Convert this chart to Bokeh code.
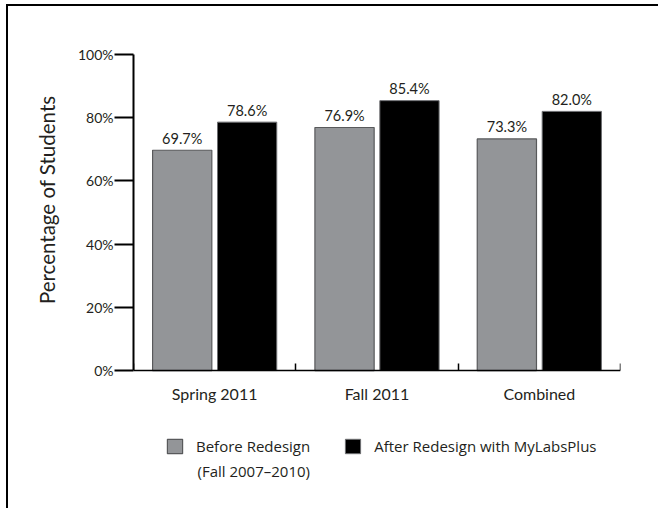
import numpy as np
from bokeh.plotting import figure
from bokeh.models import (ColumnDataSource, Range1d, FixedTicker, PrintfTickFormatter,
                          Legend, LegendItem, Label, Title)
from bokeh.embed import file_html
from bokeh.resources import INLINE

# ---- data ----
categories = ["Spring 2011", "Fall 2011", "Combined"]
before = [69.7, 76.9, 73.3]
after = [78.6, 85.4, 82.0]
y_ticks = [0, 20, 40, 60, 80, 100]
series_names = ["Before Redesign", "After Redesign with MyLabsPlus"]
series_note = "(Fall 2007\u20132010)"
y_title = "Percentage of Students"

TXT = "#231f20"
GRAY = "#939598"
EDGE = "#58595b"
FONT = "Lato"
LFONT = "Open Sans"

idx = np.arange(len(categories)) + 0.5
src = ColumnDataSource(dict(
    xb=idx - 0.2, xa=idx + 0.2, before=before, after=after,
    lb=[f"{v:.1f}%" for v in before], la=[f"{v:.1f}%" for v in after],
))

# frame spans 54..505 px; value axis 0..100 covers 316 px
p = figure(width=652, height=504, output_backend="svg", toolbar_location=None,
           x_range=Range1d(0, len(categories)), y_range=Range1d(-42.7, 100),
           min_border_left=125, min_border_right=40, min_border_top=48, min_border_bottom=5)
p.styles = {"border-top": "2px solid #000", "border-left": "2px solid #000",
            "margin-left": "6px", "margin-top": "4px"}
p.outline_line_color = None
p.xgrid.grid_line_color = None
p.ygrid.grid_line_color = None
p.background_fill_color = "white"
p.border_fill_color = "white"

rb = p.vbar(x="xb", top="before", bottom=0, width=0.365, source=src, fill_color=GRAY,
            line_color=EDGE, line_width=1.2)
ra = p.vbar(x="xa", top="after", bottom=0, width=0.365, source=src, fill_color="black",
            line_color="#6d6e71", line_width=1.0)

for xcol, ycol, lcol in (("xb", "before", "lb"), ("xa", "after", "la")):
    p.text(x=xcol, y=ycol, text=lcol, source=src, text_align="center",
           text_baseline="alphabetic", y_offset=-12, text_font_size="14.5px",
           text_font={"value": FONT}, text_color=TXT)

# x axis, pinned at 0
xa = p.xaxis[0]
xa.fixed_location = 0
xa.ticker = FixedTicker(ticks=list(idx), minor_ticks=list(range(len(categories) + 1)))
xa.major_label_overrides = {float(v): c for v, c in zip(idx, categories)}
xa.major_tick_in = 0
xa.major_tick_out = 0
xa.minor_tick_in = 7
xa.minor_tick_out = 0
xa.minor_tick_line_width = 1.5
xa.minor_tick_line_color = "black"
xa.axis_line_width = 1.5
xa.axis_line_color = "black"
xa.major_label_standoff = 13
xa.major_label_text_font = FONT
xa.major_label_text_font_size = "16px"
xa.major_label_text_color = TXT

# y axis
ya = p.yaxis[0]
ya.bounds = (0, 100)
ya.ticker = FixedTicker(ticks=y_ticks, minor_ticks=[])
ya.formatter = PrintfTickFormatter(format="%d%%")
ya.major_tick_in = 0
ya.major_tick_out = 19
ya.major_tick_line_width = 2
ya.major_tick_line_color = "black"
ya.axis_line_width = 2
ya.axis_line_color = "black"
ya.major_label_standoff = 1
ya.major_label_text_font = FONT
ya.major_label_text_font_size = "14px"
ya.major_label_text_color = TXT

t = Title(text=y_title, align="right", offset=41, text_font=FONT,
          text_font_size="20.5px", text_font_style="normal", text_color=TXT)
if "standoff" in t.properties():
    t.standoff = 31
p.add_layout(t, "left")

legend = Legend(items=[LegendItem(label=series_names[0], renderers=[rb]),
                       LegendItem(label=series_names[1], renderers=[ra])],
                orientation="horizontal", location=(32, 49),
                glyph_width=19, glyph_height=18, label_standoff=12, spacing=33,
                padding=0, margin=0, border_line_color=None, background_fill_alpha=0,
                label_text_font=LFONT, label_text_font_size="15px",
                label_text_color=TXT)
p.add_layout(legend)
p.add_layout(Label(x=64, y=35, x_units="screen", y_units="screen", text=series_note,
                   text_font=LFONT, text_font_size="15px", text_color=TXT,
                   text_baseline="alphabetic"))

open("out.html", "w").write(file_html(p, INLINE))
